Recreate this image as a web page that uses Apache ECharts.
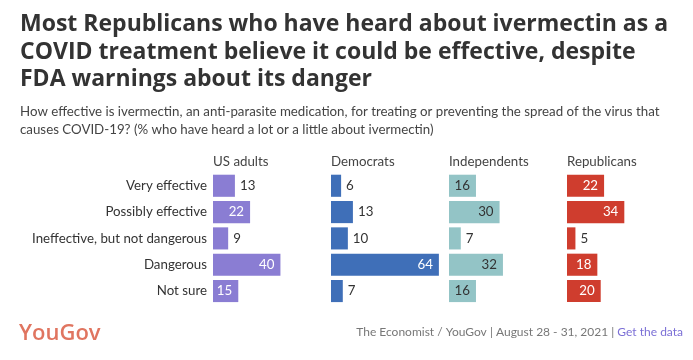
<!DOCTYPE html>
<html>
<head>
<meta charset="utf-8">
<script src="https://cdn.jsdelivr.net/npm/echarts@6/dist/echarts.min.js"></script>
<style>html,body{margin:0;padding:0;background:#fff}#c{width:693px;height:360px}</style>
</head>
<body>
<div id="c"></div>
<script>
const categories = ["Very effective", "Possibly effective", "Ineffective, but not dangerous", "Dangerous", "Not sure"];
const groups = ["US adults", "Democrats", "Independents", "Republicans"];
const usAdults = [13, 22, 9, 40, 15];
const democrats = [6, 13, 10, 64, 7];
const independents = [16, 30, 7, 32, 16];
const republicans = [22, 34, 5, 18, 20];

const seriesValues = [usAdults, democrats, independents, republicans];
const colors = ["#8a7dd3", "#3f6fb8", "#93c4c6", "#cf3d2e"];
const insideText = ["#ffffff", "#ffffff", "#333333", "#ffffff"];
const FONT = "Lato, 'Open Sans', sans-serif";
const lefts = [213, 331, 449, 567];
const gridTop = 172.6, gridH = 131.6, gridW = 118;

const chart = echarts.init(document.getElementById('c'), null, {renderer: 'canvas'});

const grids = [], xAxes = [], yAxes = [], series = [], titles = [];
titles.push({
  text: "Most Republicans who have heard about ivermectin as a\nCOVID treatment believe it could be effective, despite\nFDA warnings about its danger",
  left: 20, top: 11, padding: 0,
  textStyle: {fontFamily: "'Open Sans', sans-serif", fontSize: 23, fontWeight: 'bold', color: '#333', lineHeight: 27.5}
});
titles.push({
  text: "How effective is ivermectin, an anti-parasite medication, for treating or preventing the spread of the virus that\ncauses COVID-19? (% who have heard a lot or a little about ivermectin)",
  left: 20, top: 103, padding: 0,
  textStyle: {fontFamily: FONT, fontSize: 13.3, fontWeight: 'normal', color: '#444', lineHeight: 18}
});
titles.push({
  text: "YouGov", left: 19, top: 323, padding: 0,
  textStyle: {fontFamily: "'Open Sans', sans-serif", fontSize: 22, fontWeight: 600, color: '#e07560'}
});
titles.push({
  text: "{a|The Economist / YouGov | August 28 - 31, 2021 | }{b|Get the data}",
  right: 10, top: 326, padding: 0,
  textStyle: {rich: {
    a: {fontFamily: FONT, fontSize: 12, fontWeight: 'normal', color: '#777'},
    b: {fontFamily: FONT, fontSize: 12, fontWeight: 'normal', color: '#7b6fd6'}
  }}
});

groups.forEach((g, i) => {
  titles.push({
    text: g, left: lefts[i], top: 155, padding: 0,
    textStyle: {fontFamily: FONT, fontSize: 13.3, fontWeight: 'normal', color: '#444'}
  });
  grids.push({left: lefts[i], top: gridTop, width: gridW, height: gridH, containLabel: false});
  xAxes.push({type: 'value', gridIndex: i, min: 0, max: 70, show: false});
  yAxes.push({
    type: 'category', gridIndex: i, data: categories, inverse: true,
    axisLine: {show: false}, axisTick: {show: false}, splitLine: {show: false},
    axisLabel: {show: i === 0, fontFamily: FONT, fontSize: 13.3, color: '#333', margin: 6}
  });
  series.push({
    type: 'bar', xAxisIndex: i, yAxisIndex: i,
    barCategoryGap: '16%',
    itemStyle: {color: colors[i]},
    data: seriesValues[i].map(v => ({
      value: v,
      label: v >= 15
        ? {show: true, position: 'insideRight', distance: 6, color: insideText[i], fontFamily: FONT, fontSize: 13.3}
        : {show: true, position: 'right', distance: 5, color: '#333', fontFamily: FONT, fontSize: 13.3}
    })),
    silent: true, animation: false
  });
});

chart.setOption({
  animation: false,
  title: titles,
  grid: grids,
  xAxis: xAxes,
  yAxis: yAxes,
  series: series
});
</script>
</body>
</html>
